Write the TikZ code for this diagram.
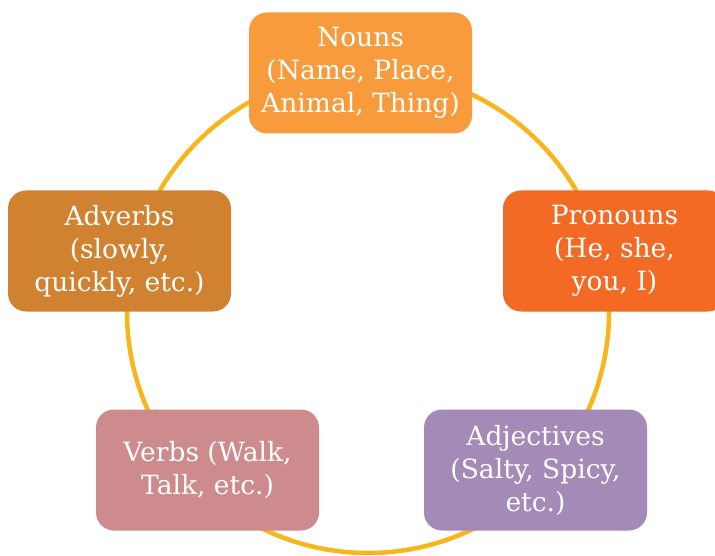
\documentclass[tikz,border=0pt]{standalone}
\usepackage{fontspec}
\setmainfont{DejaVu Serif}
\definecolor{ringc}{HTML}{F8B51C}
\definecolor{nounc}{HTML}{F79B3C}
\definecolor{pronc}{HTML}{F26A24}
\definecolor{adjc}{HTML}{A48AB7}
\definecolor{verbc}{HTML}{CD8B8D}
\definecolor{advc}{HTML}{D18230}
\tikzset{
  pbox/.style={draw=none, rounded corners=18pt, minimum width=223pt, minimum height=121pt,
    inner sep=0pt, align=center, text=white,
    font=\fontsize{26.5pt}{33pt}\selectfont},
  ring/.style={draw=ringc, line width=4.5pt}
}
\begin{document}
\begin{tikzpicture}[x=1pt,y=-1pt]
\useasboundingbox (0,0) rectangle (715,556);
\clip (0,0) rectangle (715,556);
\fill[white] (0,0) rectangle (715,556);
\coordinate (ctr) at (368,312);
\draw[ring] (ctr) circle[radius=241pt];
\node[pbox, fill=nounc] (nouns) at (360.5,73) {Nouns\\(Name, Place,\\Animal, Thing)};
\node[pbox, fill=pronc] (pronouns) at (614.5,251) {Pronouns\\(He, she,\\you, I)};
\node[pbox, fill=adjc] (adjectives) at (535.5,470) {Adjectives\\(Salty, Spicy,\\etc.)};
\node[pbox, fill=verbc] (verbs) at (207.5,470) {Verbs (Walk,\\Talk, etc.)};
\node[pbox, fill=advc] (adverbs) at (119.5,251) {Adverbs\\(slowly,\\quickly, etc.)};
\end{tikzpicture}
\end{document}
